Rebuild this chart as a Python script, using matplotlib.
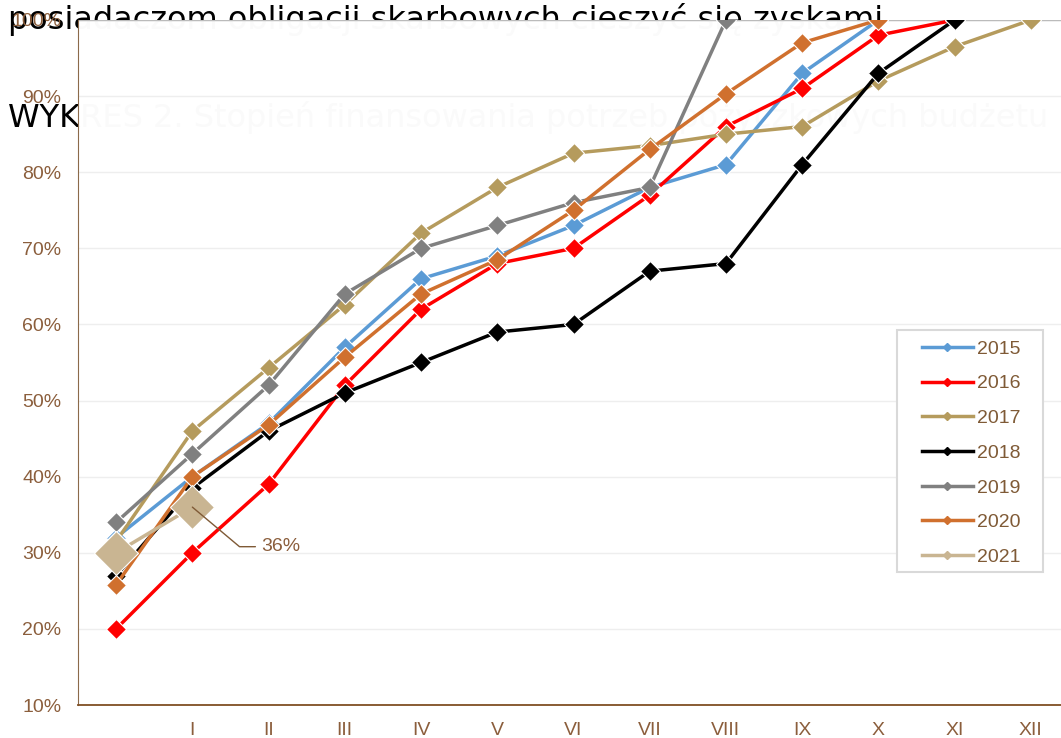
import matplotlib.pyplot as plt
from matplotlib.patches import Rectangle

# months: opening position plus I..XII
months = ["", "I", "II", "III", "IV", "V", "VI", "VII", "VIII", "IX", "X", "XI", "XII"]

years = ["2015", "2016", "2017", "2018", "2019", "2020", "2021"]
y2015 = [32, 40, 47, 57, 66, 69, 73, 78, 81, 93, 100]
y2016 = [20, 30, 39, 52, 62, 68, 70, 77, 86, 91, 98, 100]
y2017 = [31.5, 46, 54.3, 62.6, 72, 78, 82.5, 83.5, 85, 86, 92, 96.5, 100]
y2018 = [27, 38.5, 46, 51, 55, 59, 60, 67, 68, 81, 93, 100]
y2019 = [34, 43, 52, 64, 70, 73, 76, 78, 100]
y2020 = [25.8, 40, 46.8, 55.7, 64, 68.5, 75, 83, 90.3, 97, 100]
y2021 = [30, 36]

colors = ["#5B9BD5", "#FF0000", "#B59B5D", "#000000", "#808080", "#D0702E", "#C9B592"]
brown = "#8B5E3C"
fs = 14
W, H = 1061, 738

fig = plt.figure(figsize=(W / 100, H / 100), dpi=100)
fig.patch.set_facecolor("white")

# heading text sitting behind the plot area
fig.text(8 / W, 1 - 19 / H, "posiadaczom obligacji skarbowych cieszyć się zyskami",
         fontsize=23, color="black", va="center", ha="left", zorder=-1)
fig.text(8 / W, 1 - 118 / H, "WYKRES 2. Stopień finansowania potrzeb pożyczkowych budżetu",
         fontsize=23, color="black", va="center", ha="left", zorder=-1)

ax = fig.add_axes([78 / W, 33 / H, 991 / W, 685 / H])
ax.patch.set_facecolor("white")
ax.patch.set_alpha(0.985)

series = [y2015, y2016, y2017, y2018, y2019, y2020, y2021]
for i, (name, vals) in enumerate(zip(years, series)):
    ms = 22 if name == "2021" else 10
    ax.plot(range(len(vals)), vals, color=colors[i], lw=2.5, marker="D", ms=ms,
            mec="white", mew=0.8, label=name, zorder=3 + i * 0.1)

ax.annotate("36%", xy=(1, y2021[1]), xytext=(1.9, 30.8), fontsize=fs, color=brown,
            family="Liberation Sans", va="center", ha="left",
            arrowprops=dict(arrowstyle="-", color="#7F5A36", lw=1,
                            connectionstyle="angle,angleA=0,angleB=-40,rad=0",
                            shrinkA=2, shrinkB=0), zorder=6)

ax.set_xlim(-0.5, 12.5)
ax.set_ylim(10, 100)
ax.set_xticks(range(len(months)))
ax.set_xticklabels(months)
ax.set_yticks(range(10, 101, 10))
ax.set_yticklabels([f"{v}%" for v in range(10, 101, 10)])
ax.tick_params(axis="y", length=0, labelsize=fs, labelcolor=brown, pad=12)
ax.tick_params(axis="x", length=0, labelsize=fs, labelcolor=brown, pad=12)
for lbl in ax.get_xticklabels() + ax.get_yticklabels():
    lbl.set_family("Liberation Sans")

ax.grid(axis="y", color="#EEEEEE", lw=1)
ax.set_axisbelow(True)
ax.spines["right"].set_visible(False)
ax.spines["top"].set_visible(False)
ax.axhline(100, color="#BBBBBB", lw=1, zorder=1)
ax.spines["left"].set_color("#8B6A4A")
ax.spines["bottom"].set_color("#7F4F24")
ax.spines["bottom"].set_linewidth(1.3)

# legend box, drawn separately for its wider padding
ax.add_patch(Rectangle((897 / W, 1 - 572 / H), 146 / W, 242 / H, transform=fig.transFigure,
                       facecolor="white", edgecolor="#D9D9D9", lw=1.5, zorder=4.9,
                       clip_on=False))
handles = [plt.Line2D([], [], color=c, lw=2.5, marker="D", ms=4, mec=c) for c in colors]
leg = ax.legend(handles, years, loc="upper left", bbox_to_anchor=(922 / W, 1 - 340 / H),
                bbox_transform=fig.transFigure, frameon=False, handlelength=2.6,
                labelspacing=0.88, borderpad=0, handletextpad=0.25, borderaxespad=0,
                prop={"family": "Liberation Sans", "size": fs})
for t in leg.get_texts():
    t.set_color("#7F5A36")

fig.savefig("out.png", dpi=100)
